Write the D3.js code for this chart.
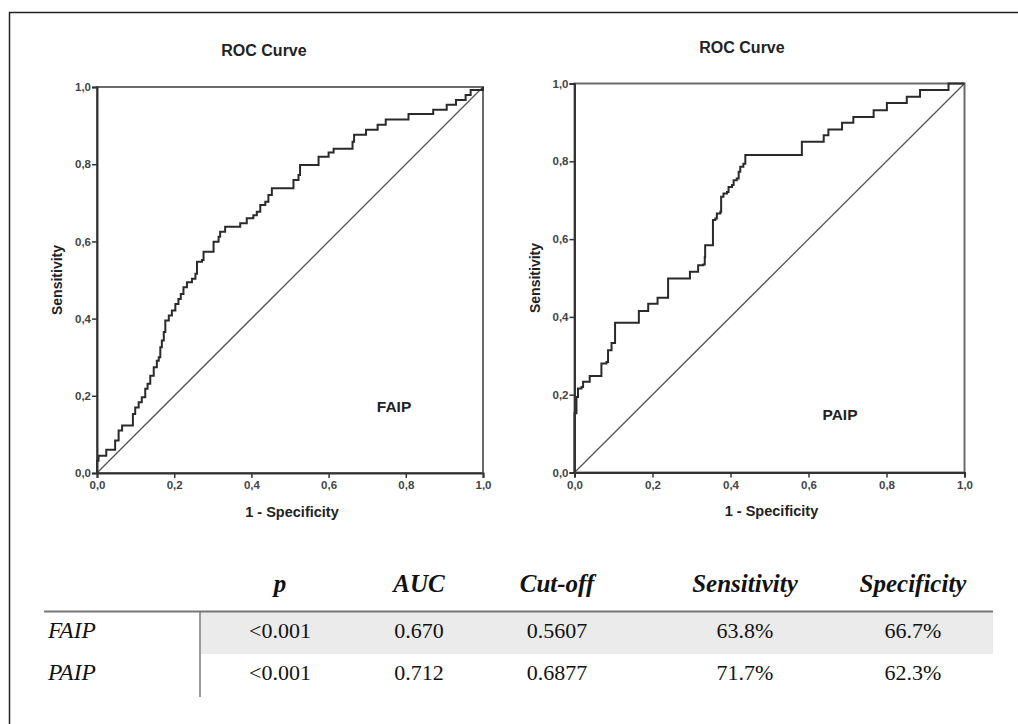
<!DOCTYPE html>
<html><head><meta charset="utf-8">
<script src="https://cdn.jsdelivr.net/npm/d3@7/dist/d3.min.js"></script>
<style>body{margin:0;background:#fff}svg{display:block}</style>
</head><body>
<svg id="c" width="1018" height="724"></svg>
<script>
// ---- data ----
const tickValues = [0, 0.2, 0.4, 0.6, 0.8, 1.0];
const faipFPR = [0,0,.004,.024,.047,.056,.065,.093,.099,.108,.116,.125,.131,.138,.147,.155,.160,.164,.168,.173,.177,.186,.194,.203,.211,.217,.224,.233,.246,.255,.259,.272,.276,.302,.315,.319,.332,.371,.388,.405,.414,.423,.436,.444,.453,.509,.522,.526,.574,.600,.613,.662,.666,.697,.727,.748,.807,.871,.906,.930,.955,.968,1];
const faipTPR = [0,.032,.045,.060,.084,.110,.123,.153,.170,.183,.196,.218,.231,.252,.274,.291,.300,.326,.343,.365,.395,.408,.421,.438,.451,.464,.481,.494,.503,.516,.547,.552,.573,.599,.612,.625,.638,.647,.660,.668,.677,.694,.703,.720,.738,.759,.772,.798,.819,.830,.840,.858,.876,.889,.902,.916,.930,.941,.954,.966,.979,.992,1];
const paipFPR = [0,0,.005,.009,.018,.022,.039,.069,.082,.086,.095,.104,.165,.189,.213,.240,.296,.317,.330,.334,.335,.355,.361,.365,.374,.376,.382,.391,.395,.404,.408,.416,.421,.425,.433,.438,.583,.639,.651,.686,.715,.767,.801,.852,.886,.959,1];
const paipTPR = [0,.152,.194,.216,.220,.233,.248,.280,.284,.314,.333,.385,.415,.434,.449,.499,.516,.533,.535,.554,.584,.649,.653,.666,.670,.709,.717,.721,.734,.739,.751,.756,.773,.786,.794,.816,.850,.867,.882,.899,.914,.931,.950,.966,.983,1,1];
const chartTitles = ["ROC Curve", "ROC Curve"];
const chartLabels = ["FAIP", "PAIP"];
const xTitle = "1 - Specificity";
const yTitle = "Sensitivity";
const tableHeaders = ["p", "AUC", "Cut-off", "Sensitivity", "Specificity"];
const tableRowNames = ["FAIP", "PAIP"];
const tableP = ["<0.001", "<0.001"];
const tableAUC = ["0.670", "0.712"];
const tableCutoff = ["0.5607", "0.6877"];
const tableSens = ["63.8%", "71.7%"];
const tableSpec = ["66.7%", "62.3%"];

// ---- drawing ----
const svg = d3.select("#c");
svg.append("rect").attr("x", 9.5).attr("y", 12.5).attr("width", 1030).attr("height", 730)
  .attr("fill", "none").attr("stroke", "#222").attr("stroke-width", 1.5);

const loc = d3.formatLocale({decimal: ",", thousands: ".", grouping: [3], currency: ["", ""]});
const fmt = loc.format(".1f");
const sans = "Liberation Sans, Arial, sans-serif";

const panels = [
  {fpr: faipFPR, tpr: faipTPR, xr: [97, 483], yr: [473, 87], title: chartTitles[0], label: chartLabels[0],
   titleX: 264, titleY: 50, labX: 394, labY: 407, yTitleX: 57, xTitleY: 512},
  {fpr: paipFPR, tpr: paipTPR, xr: [574.5, 964.5], yr: [472.5, 83.5], title: chartTitles[1], label: chartLabels[1],
   titleX: 742, titleY: 47, labX: 840, labY: 415, yTitleX: 535, xTitleY: 511}
];

panels.forEach(p => {
  const x = d3.scaleLinear().domain([0, 1]).range(p.xr);
  const y = d3.scaleLinear().domain([0, 1]).range(p.yr);
  const g = svg.append("g");
  g.append("rect").attr("x", x(0)).attr("y", y(1)).attr("width", x(1) - x(0)).attr("height", y(0) - y(1))
    .attr("fill", "none").attr("stroke", "#6a6a6a").attr("stroke-width", 2);
  g.append("line").attr("x1", x(0)).attr("y1", y(0)).attr("x2", x(1)).attr("y2", y(1))
    .attr("stroke", "#555").attr("stroke-width", 1.3);
  const pts = p.fpr.map((f, i) => [f, p.tpr[i]]);
  g.append("path").datum(pts)
    .attr("d", d3.line().x(d => x(d[0])).y(d => y(d[1])).curve(d3.curveStepAfter))
    .attr("fill", "none").attr("stroke", "#2a2a2a").attr("stroke-width", 2);
  const ax = g.append("g").attr("transform", `translate(0,${y(0)})`)
    .call(d3.axisBottom(x).tickValues(tickValues).tickFormat(fmt).tickSize(5).tickPadding(3));
  const ay = g.append("g").attr("transform", `translate(${x(0)},0)`)
    .call(d3.axisLeft(y).tickValues(tickValues).tickFormat(fmt).tickSize(5).tickPadding(1));
  [ax, ay].forEach(a => {
    a.select(".domain").attr("stroke", "#333").attr("stroke-width", 2);
    a.selectAll(".tick line").attr("stroke", "#333").attr("stroke-width", 1.5);
    a.selectAll(".tick text").attr("fill", "#444").attr("font-family", sans)
      .attr("font-size", 11.5).attr("font-weight", "bold");
  });
  g.append("text").attr("x", p.titleX).attr("y", p.titleY).attr("text-anchor", "middle").attr("dy", "0.35em")
    .attr("font-family", sans).attr("font-weight", "bold").attr("font-size", 16)
    .attr("fill", "#222").text(p.title);
  g.append("text").attr("x", (x(0) + x(1)) / 2 + 2).attr("y", p.xTitleY).attr("text-anchor", "middle").attr("dy", "0.35em")
    .attr("font-family", sans).attr("font-weight", "bold").attr("font-size", 14.5)
    .attr("fill", "#222").text(xTitle);
  g.append("text").attr("transform", `translate(${p.yTitleX},${(y(0) + y(1)) / 2}) rotate(-90)`)
    .attr("text-anchor", "middle").attr("dy", "0.35em")
    .attr("font-family", sans).attr("font-weight", "bold").attr("font-size", 14)
    .attr("fill", "#222").text(yTitle);
  g.append("text").attr("x", p.labX).attr("y", p.labY).attr("text-anchor", "middle").attr("dy", "0.35em")
    .attr("font-family", sans).attr("font-weight", "bold").attr("font-size", 15.5)
    .attr("fill", "#222").text(p.label);
});

// ---- table ----
const colX = d3.scaleOrdinal().domain(tableHeaders).range([280, 419, 557, 745, 913]);
const rowY = d3.scaleBand().domain(tableRowNames).range([612, 696]);
const serif = "Liberation Serif, Times New Roman, serif";
const t = svg.append("g");
t.append("rect").attr("x", 201).attr("y", rowY("FAIP")).attr("width", 993 - 201).attr("height", rowY.bandwidth())
  .attr("fill", "#ebebeb");
t.append("line").attr("x1", 44).attr("x2", 993).attr("y1", 611.5).attr("y2", 611.5)
  .attr("stroke", "#777").attr("stroke-width", 2);
t.append("line").attr("x1", 200).attr("x2", 200).attr("y1", 612).attr("y2", 697)
  .attr("stroke", "#777").attr("stroke-width", 1.5);
t.selectAll("text.h").data(tableHeaders).join("text")
  .attr("x", d => colX(d)).attr("y", 583).attr("dy", "0.35em")
  .attr("text-anchor", "middle").attr("font-family", serif).attr("font-style", "italic").attr("font-weight", "bold")
  .attr("font-size", 25).attr("fill", "#111").text(d => d);
const cols = [tableP, tableAUC, tableCutoff, tableSens, tableSpec];
tableRowNames.forEach((r, i) => {
  const cy = rowY(r) + rowY.bandwidth() / 2 - 3;
  t.append("text").attr("x", 48).attr("y", cy).attr("dy", "0.35em").attr("font-family", serif)
    .attr("font-style", "italic").attr("font-size", 23.5).attr("fill", "#111").text(r);
  cols.forEach((c, j) => {
    t.append("text").attr("x", colX(tableHeaders[j])).attr("y", cy).attr("dy", "0.35em")
      .attr("text-anchor", "middle").attr("font-family", serif).attr("font-size", 22).attr("fill", "#111").text(c[i]);
  });
});
</script>
</body></html>
